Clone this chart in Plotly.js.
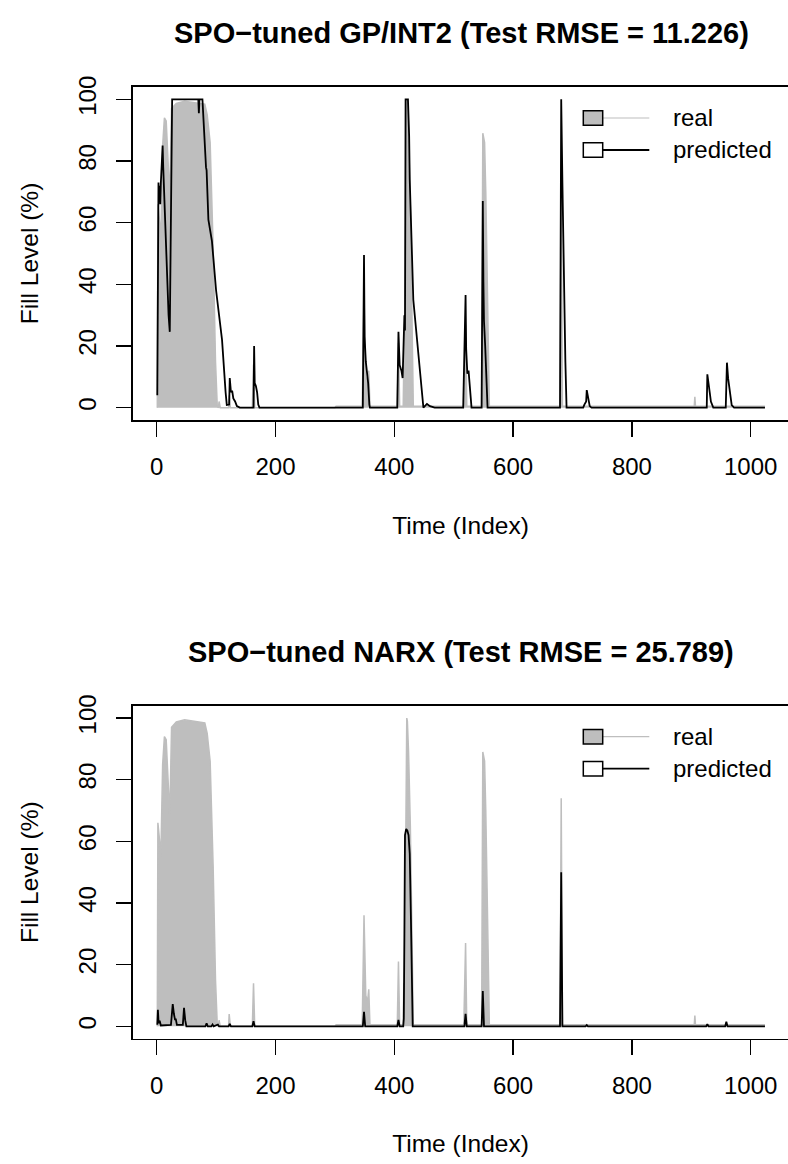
<!DOCTYPE html>
<html>
<head>
<meta charset="utf-8">
<script src="https://cdn.plot.ly/plotly-3.0.1.min.js"></script>
<style>
html,body{margin:0;padding:0;background:#fff;overflow:hidden;}
#chart{width:788px;height:1164px;}
</style>
</head>
<body>
<div id="chart"></div>
<script>
// ---- Data ----
const titleTop = "SPO\u2212tuned GP/INT2 (Test RMSE = 11.226)";
const titleBottom = "SPO\u2212tuned NARX (Test RMSE = 25.789)";
const xTicks = [0, 200, 400, 600, 800, 1000];
const yTicks = [0, 20, 40, 60, 80, 100];
const seriesNames = ["real", "predicted"];

// real fill level (same series in both panels)
const realX = [1,2,4,7,10,13,16,19,22,25,33,47,67,81,85,90,95,99,102,104,105,107,121,122,124,161,163,165,
  300,302,346,349,352,355,357,359,405,407,409,415,416,417,418,420,421,422,424,427,430,432,
  517,520,522,547,549,552,554,557,560,679,681,683,905,906,907,1024];
const realY = [0,66,62,55,85,94,93,80,68,97,98.7,99.4,98.7,98.4,95,86,52,15,0.3,0,2,0,0,4,0,0,14,0,
  0,0.5,0.5,36,10,8,12,0.5,0.5,21,0.5,0.5,14,5,30,95,100,99,89,65,30,0.5,
  0.5,27,0.5,0.5,89,86,70,40,0.5,0.5,74,0.5,0.5,3.5,0.5,0.5];

// SPO-tuned GP/INT2 prediction
const gpX = [1,3,4,5,6,7,8,10,11,16,20,22,24,26,70,71,72,77,83,84,87,93,100,110,116,118,122,123,125,127,129,132,135,140,
  163,164,165,167,169,171,173,347,349,350,352,354,356,358,359,405,407,409,412,414,416,417,418,419,423,425,426,428,432,449,455,460,468,
  516,520,521,523,525,527,530,547,549,550,551,553,555,557,679,681,683,686,688,690,718,720,723,724,726,729,732,
  926,927,929,931,933,937,958,960,962,965,968,972,1024];
const gpY = [4,73,67,72,66,73,78,85,78,50,30,24.6,60,100,100,95.5,100,100,78,77,61,54,38,22,5,0.9,1,9.6,5,5.5,3,2,0.5,0,
  0,20,8,7,5,1,0,0,49.5,23,15,12,8,1,0,0,24.6,13.8,12,9.6,20,30,25,100,100,88,74,60,35,0,1.2,0.5,0,
  0,36.5,19,11,12,6,0,0,67,41,28,20,12,0,0,100,73,30,15,0,0,1,2,5.7,3,0.5,0,
  0,10.8,7,5,2,0,0,14.6,9.5,5,0.8,0,0];

// SPO-tuned NARX prediction
const narxX = [1,2,3,4,5,7,24,27,29,31,32,34,44,46,48,50,82,84,86,92,94,96,103,105,121,123,125,161,163,165,
  347,349,351,405,407,409,415,416,417,418,420,422,424,426,428,429,430,431,518,520,522,547,549,551,679,681,683,
  722,724,726,925,927,929,957,959,961,1024];
const narxY = [0.5,5.4,2,1,1.8,0.3,0.5,7.2,4,2,2.5,0.5,0.5,6,2,0,0,1,0,0,0.6,0,0.6,0,0,0.8,0,0,1.7,0,
  0,4.7,0,0,2.1,0,0,2.5,30,62,64,63.5,62,56,35,15,1,0,0,4.1,0,0,11.5,0,0,50,0,
  0,0.4,0,0,0.7,0,0,1.5,0,0];

// ---- Style ----
const FONT = "Liberation Sans, Arial, Helvetica, sans-serif";
const GRAY = "#BEBEBE";
const W = 788, H = 1164;
const boxLeft = 133;
const panels = [
  {top: 87.0, bottom: 420.0, title: titleTop, pred: [gpX, gpY]},
  {top: 705.7, bottom: 1038.7, title: titleBottom, pred: [narxX, narxY]}
];

const traces = [];
const shapes = [];
const annotations = [];
const layout = {
  width: W, height: H,
  margin: {l: 0, r: 0, t: 0, b: 0},
  paper_bgcolor: "#fff", plot_bgcolor: "#fff",
  showlegend: false,
  font: {family: FONT, color: "#000", size: 24}
};

panels.forEach((p, i) => {
  const xa = i === 0 ? "x" : "x2";
  const ya = i === 0 ? "y" : "y2";
  const xk = i === 0 ? "xaxis" : "xaxis2";
  const yk = i === 0 ? "yaxis" : "yaxis2";
  traces.push({
    type: "scatter", mode: "lines", x: realX, y: realY, xaxis: xa, yaxis: ya,
    name: seriesNames[0], fill: "tozeroy", fillcolor: GRAY,
    line: {color: GRAY, width: 1.5}, hoverinfo: "skip"
  });
  traces.push({
    type: "scatter", mode: "lines", x: p.pred[0], y: p.pred[1], xaxis: xa, yaxis: ya,
    name: seriesNames[1], line: {color: "#000", width: 1.8}, hoverinfo: "skip"
  });
  const yDom = [1 - p.bottom / H, 1 - p.top / H];
  layout[xk] = {
    domain: [boxLeft / W, 1], range: [-39.9, 1062.8],
    showgrid: false, zeroline: false, showline: true, mirror: true,
    linecolor: "#000", linewidth: 1.6,
    ticks: "outside", ticklen: 15, tickwidth: 1.5, tickcolor: "#000",
    tickmode: "array", tickvals: xTicks, ticktext: xTicks.map(String),
    tickfont: {family: FONT, size: 24, color: "#000"},
    ticklabelstandoff: 10,
    anchor: ya,
    title: {text: "Time (Index)", font: {family: FONT, size: 24.5, color: "#000"}, standoff: 37}
  };
  layout[yk] = {
    domain: yDom, range: [-4, 104],
    showgrid: false, zeroline: false, showline: true, mirror: false,
    linecolor: "#000", linewidth: 1.6,
    ticks: "outside", ticklen: 15, tickwidth: 1.5, tickcolor: "#000",
    tickmode: "array", tickvals: yTicks, ticktext: yTicks.map(String),
    tickangle: -90,
    tickfont: {family: FONT, size: 24, color: "#000"},
    ticklabelstandoff: 11,
    anchor: xa,
    title: {text: "Fill Level (%)", font: {family: FONT, size: 24.5, color: "#000"}, standoff: 28}
  };
  // panel title
  annotations.push({
    text: "<b>" + p.title + "</b>", xref: "paper", yref: "paper",
    x: 461 / W, y: 1 - (p.top - 54) / H, xanchor: "center", yanchor: "middle",
    showarrow: false, font: {family: FONT, size: 29, color: "#000"}
  });
  // R-style legend: box + line + label
  const off = p.top - 87.0;
  const rows = [
    {cy: 118 + off, fill: GRAY, line: GRAY, lw: 1.2, label: seriesNames[0]},
    {cy: 150 + off, fill: "#fff", line: "#000", lw: 1.8, label: seriesNames[1]}
  ];
  rows.forEach(r => {
    shapes.push({type: "line", xref: "paper", yref: "paper",
      x0: 602.7 / W, x1: 649.3 / W, y0: 1 - r.cy / H, y1: 1 - r.cy / H,
      line: {color: r.line, width: r.lw}});
    shapes.push({type: "rect", xref: "paper", yref: "paper",
      x0: 583.3 / W, x1: 602.7 / W, y0: 1 - (r.cy + 7.3) / H, y1: 1 - (r.cy - 7.3) / H,
      fillcolor: r.fill, line: {color: "#000", width: 1.5}});
    annotations.push({text: r.label, xref: "paper", yref: "paper",
      x: 671 / W, y: 1 - r.cy / H, xanchor: "left", yanchor: "middle",
      showarrow: false, font: {family: FONT, size: 24, color: "#000"}});
  });
});

layout.shapes = shapes;
layout.annotations = annotations;

Plotly.newPlot("chart", traces, layout, {staticPlot: true, displayModeBar: false});
</script>
</body>
</html>
